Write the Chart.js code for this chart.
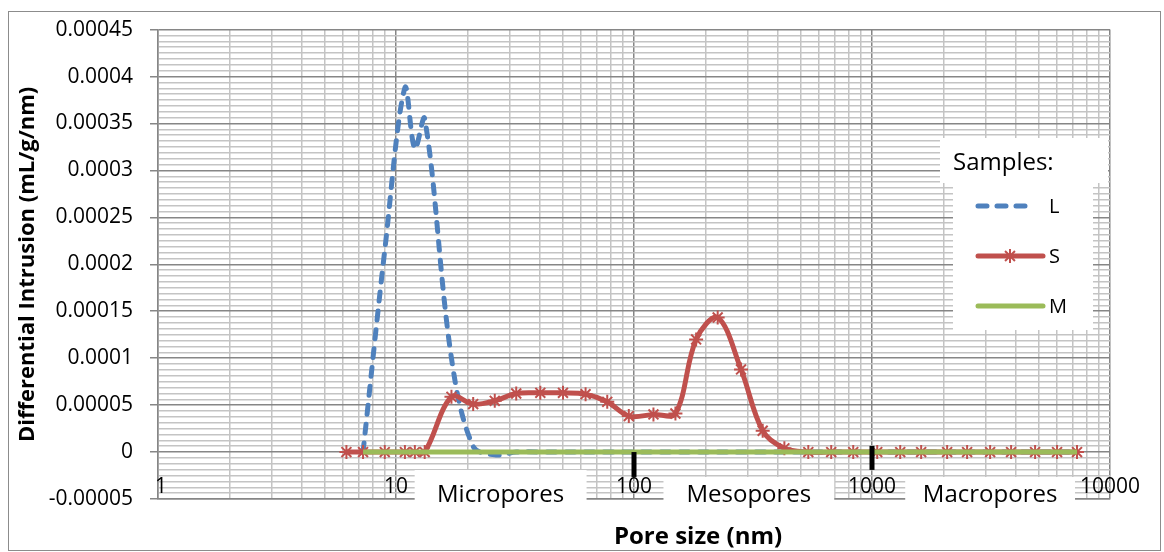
<!DOCTYPE html>
<html>
<head>
<meta charset="utf-8">
<script src="https://cdn.jsdelivr.net/npm/chart.js@4.4.1/dist/chart.umd.min.js"></script>
<style>
    html, body { margin: 0; padding: 0; background: #fff; }
    canvas { display: block; }
</style>
</head>
<body>
<canvas id="poreChart" width="1164" height="552"></canvas>
<script>
// pore size (nm) of each measured point
const poreSize = [6.19, 7.27, 8.97, 10.9, 12.0, 13.2, 17.1, 21.1, 26.0, 32.0, 40.4, 50.3,
    62.6, 77.2, 95.1, 120.7, 149.3, 182.4, 224.7, 281.7, 347.3, 428.4, 540, 674, 834,
    1052, 1314, 1609, 2069, 2510, 3136, 3841, 4844, 5992, 7269];

// differential intrusion (mL/g/nm)
const sampleL = [null, 0, 0.000215, 0.000388, 0.000323, 0.000355, 0.0001, 0.000006, -0.000003, 0,
    0, 0, 0, 0, 0, 0, 0, 0, 0, 0, 0, 0, 0, 0, 0, 0, 0, 0, 0, 0, 0, 0, 0, 0, 0];
const sampleS = [0, 0, 0, 0, 0, 0, 0.0000588, 0.0000511, 0.0000546, 0.0000624, 0.0000631, 0.0000631,
    0.0000617, 0.0000535, 0.0000383, 0.0000401, 0.0000411, 0.000120, 0.0001433, 0.000088, 0.0000227, 0.000004, 0, 0, 0,
    0, 0, 0, 0, 0, 0, 0, 0, 0, 0];
const sampleM = [null, 0, 0, 0, 0, 0, 0, 0, 0, 0, 0, 0, 0, 0, 0, 0, 0, 0, 0, 0, 0, 0, 0, 0, 0,
    0, 0, 0, 0, 0, 0, 0, 0, 0, 0];

const seriesNames = ['L', 'S', 'M'];

const xTickLabels = ['1', '10', '100', '1000', '10000'];
const yTickLabels = ['-0.00005', '0', '0.00005', '0.0001', '0.00015', '0.0002',
    '0.00025', '0.0003', '0.00035', '0.0004', '0.00045'];

// class boundaries (black marks on the axis)
const boundarySizes = [100, 1000];
const boundaryTop = [0, 0.0000066];
const boundaryBottom = [-0.0000265, -0.000019];

const regionNames = ['Micropores', 'Mesopores', 'Macropores'];

const MINOR_PER_MAJOR = 8;
const GRID_MAJOR = '#868686';
const GRID_MINOR = '#c4c4c4';
const FONT = "'Open Sans', sans-serif";

Chart.defaults.font.family = FONT;
Chart.defaults.color = '#000';

// tick values built from the label lists
const xTickValues = [];
for (let i = 0; i < xTickLabels.length - 1; i++) {
    const d = parseFloat(xTickLabels[i]);
    for (let k = 1; k <= 9; k++) xTickValues.push(k * d);
}
xTickValues.push(parseFloat(xTickLabels[xTickLabels.length - 1]));

const yTickValues = [];
for (let i = 0; i < yTickLabels.length - 1; i++) {
    const a = parseFloat(yTickLabels[i]);
    const b = parseFloat(yTickLabels[i + 1]);
    for (let k = 0; k < MINOR_PER_MAJOR; k++) yTickValues.push(a + (b - a) * k / MINOR_PER_MAJOR);
}
yTickValues.push(parseFloat(yTickLabels[yTickLabels.length - 1]));

function isDecade(v) {
    const e = Math.round(Math.log10(v));
    return Math.abs(Math.pow(10, e) - v) < 1e-9;
}

function toPoints(values) {
    return poreSize.map((x, i) => ({ x: x, y: values[i] }));
}

// boxes behind the region names: x range in nm, top as a value
const regionBoxes = [
    { from: 11.98, to: 63.2, top: -0.0000191 },
    { from: 133, to: 694, top: -0.0000266 },
    { from: 1379, to: 7129, top: -0.0000266 }
];

const frameAndLabels = {
    id: 'frameAndLabels',
    beforeDraw(chart) {
        const c = chart.ctx;
        c.save();
        c.fillStyle = '#fff';
        c.fillRect(0, 0, chart.width, chart.height);
        c.strokeStyle = '#8c8c8c';
        c.lineWidth = 1;
        c.strokeRect(8.5, 11.5, 1152, 539);
        c.restore();
    },
    afterDatasetsDraw(chart) {
        const c = chart.ctx;
        const xs = chart.scales.x;
        const ys = chart.scales.y;
        const area = chart.chartArea;
        c.save();
        // x tick labels sit inside the plot, just above its bottom edge
        c.fillStyle = '#000';
        c.font = '21px ' + FONT;
        c.textAlign = 'center';
        c.textBaseline = 'middle';
        xTickLabels.forEach((t) => {
            c.fillText(t, xs.getPixelForValue(parseFloat(t)) + (t === '1' ? 3 : 0), area.bottom - 12);
        });
        // region name boxes
        regionBoxes.forEach((b, i) => {
            const x0 = xs.getPixelForValue(b.from);
            const x1 = xs.getPixelForValue(b.to);
            const y0 = ys.getPixelForValue(b.top);
            c.fillStyle = '#fff';
            c.fillRect(x0, y0, x1 - x0, area.bottom + 6 - y0);
            c.fillStyle = '#000';
            c.font = '24px ' + FONT;
            c.textAlign = 'center';
            c.textBaseline = 'alphabetic';
            c.fillText(regionNames[i], (x0 + x1) / 2, area.bottom + 3);
        });
        // boundary marks
        c.fillStyle = '#000';
        boundarySizes.forEach((s, i) => {
            const px = xs.getPixelForValue(s);
            const t = ys.getPixelForValue(boundaryTop[i]);
            const btm = ys.getPixelForValue(boundaryBottom[i]);
            c.fillRect(px - 2.5, t, 5, btm - t);
        });
        // axis title, centred where the original has it
        c.font = 'bold 24px ' + FONT;
        c.textAlign = 'center';
        c.textBaseline = 'middle';
        c.fillText('Pore size (nm)', 698, 537);
        c.restore();
    },
    afterDraw(chart) {
        const c = chart.ctx;
        const ds = chart.data.datasets;
        c.save();
        c.fillStyle = '#fff';
        c.fillRect(940, 138, 168, 45);
        c.fillRect(953, 183, 140, 147);
        c.fillStyle = '#000';
        c.font = '24px ' + FONT;
        c.textAlign = 'left';
        c.textBaseline = 'middle';
        c.fillText('Samples:', 953, 163);

        const rows = [206, 256, 306];
        rows.forEach((y, i) => {
            const d = ds[i];
            c.save();
            c.strokeStyle = d.borderColor;
            c.lineWidth = d.borderWidth;
            c.lineCap = 'round';
            c.setLineDash(d.borderDash || []);
            c.beginPath();
            c.moveTo(978, y);
            c.lineTo(i === 0 ? 1035 : 1043, y);
            c.stroke();
            c.restore();
            if (d.pointRadius > 0) {
                c.save();
                c.strokeStyle = d.pointBorderColor;
                c.fillStyle = d.pointBorderColor;
                c.lineWidth = d.pointBorderWidth;
                Chart.helpers.drawPoint(c, { pointStyle: d.pointStyle, radius: d.pointRadius, rotation: 0, borderWidth: d.pointBorderWidth }, 1010, y);
                c.restore();
            }
            c.fillStyle = '#000';
            c.font = '20px ' + FONT;
            c.textBaseline = 'middle';
            c.fillText(seriesNames[i], 1049, y + 1);
        });
        c.restore();
    }
};

const ctx = document.getElementById('poreChart').getContext('2d');
const poreChart = new Chart(ctx, {
    type: 'line',
    data: {
        datasets: [
            {
                label: seriesNames[0],
                data: toPoints(sampleL),
                borderColor: '#4F81BD',
                borderWidth: 5,
                borderDash: [9, 10],
                borderCapStyle: 'round',
                pointRadius: 0,
                tension: 0.35,
                fill: false,
                order: 3
            },
            {
                label: seriesNames[1],
                data: toPoints(sampleS),
                borderColor: '#C0504D',
                borderWidth: 5,
                pointStyle: 'star',
                pointRadius: 7,
                pointBorderWidth: 2,
                pointBorderColor: '#C0504D',
                pointBackgroundColor: '#C0504D',
                tension: 0.35,
                fill: false,
                order: 2
            },
            {
                label: seriesNames[2],
                data: toPoints(sampleM),
                borderColor: '#9BBB59',
                borderWidth: 5,
                pointRadius: 0,
                tension: 0,
                fill: false,
                order: 1
            }
        ]
    },
    options: {
        responsive: false,
        animation: false,
        events: [],
        layout: { padding: { left: 14, right: 54, top: 29, bottom: 0 } },
        plugins: {
            legend: { display: false },
            tooltip: { enabled: false }
        },
        scales: {
            x: {
                type: 'logarithmic',
                min: 1,
                max: 10000,
                afterBuildTicks: (scale) => {
                    scale.ticks = xTickValues.map(v => ({ value: v }));
                },
                afterFit: (scale) => { scale.height = 53; },
                ticks: { display: false },
                grid: {
                    color: (c) => isDecade(c.tick.value) ? GRID_MAJOR : GRID_MINOR,
                    lineWidth: 1.5,
                    drawTicks: false
                },
                border: { display: true, color: GRID_MAJOR, width: 1.5 }
            },
            y: {
                type: 'linear',
                min: -0.00005,
                max: 0.00045,
                afterBuildTicks: (scale) => {
                    scale.ticks = yTickValues.map(v => ({ value: v }));
                },
                afterFit: (scale) => { scale.width = 144; },
                ticks: {
                    autoSkip: false,
                    padding: 17,
                    color: '#000',
                    font: { size: 21 },
                    callback: (v, i) => i % MINOR_PER_MAJOR === 0 ? yTickLabels[i / MINOR_PER_MAJOR] : ''
                },
                grid: {
                    color: (c) => c.index % MINOR_PER_MAJOR === 0 ? GRID_MAJOR : GRID_MINOR,
                    tickColor: (c) => c.index % MINOR_PER_MAJOR === 0 ? GRID_MAJOR : 'rgba(0,0,0,0)',
                    lineWidth: 1.5,
                    tickLength: 8
                },
                border: { display: true, color: GRID_MAJOR, width: 1.5 },
                title: {
                    display: true,
                    text: 'Differential Intrusion (mL/g/nm)',
                    color: '#000',
                    font: { size: 22, weight: 'bold' },
                    padding: { top: 1, bottom: 0 }
                }
            }
        }
    },
    plugins: [frameAndLabels]
});
</script>
</body>
</html>
